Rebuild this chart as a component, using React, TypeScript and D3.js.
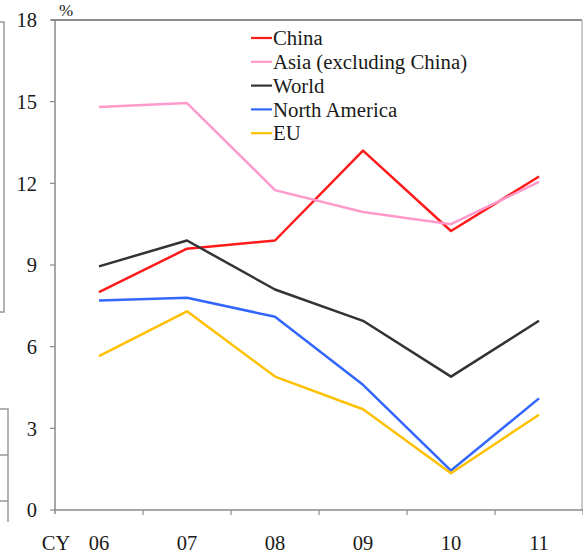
import React from "react";
import * as d3 from "d3";

const categories = ["06", "07", "08", "09", "10", "11"];
const yTicks = [0, 3, 6, 9, 12, 15, 18];
const seriesNames = ["China", "Asia (excluding China)", "World", "North America", "EU"];
const china = [8.0, 9.6, 9.9, 13.2, 10.25, 12.25];
const asia = [14.8, 14.95, 11.75, 10.95, 10.5, 12.05];
const world = [8.95, 9.9, 8.1, 6.95, 4.9, 6.95];
const northAmerica = [7.7, 7.8, 7.1, 4.6, 1.45, 4.1];
const eu = [5.65, 7.3, 4.9, 3.7, 1.35, 3.5];
const seriesColors = ["#ff1a1a", "#ff99cc", "#333333", "#3366ff", "#ffc000"];

const W = 583;
const H = 553;
const FONT = "'Liberation Serif', 'Times New Roman', serif";

export default function App() {
  const left = 55, right = 583, top = 20, bottom = 510;
  const x = d3.scaleBand<string>().domain(categories).range([left, right]).padding(0);
  const y = d3.scaleLinear().domain([0, 18]).range([bottom, top]);
  const cx = (c: string) => (x(c) as number) + x.bandwidth() / 2;
  const data = [china, asia, world, northAmerica, eu];
  const line = d3
    .line<number>()
    .x((_, i) => cx(categories[i]))
    .y((v) => y(v));
  const boundaries = categories.map((c) => (x(c) as number) + x.bandwidth());
  const axisColor = "#8a8a8a";

  return (
    <svg
      width={W}
      height={H}
      style={{ position: "absolute", left: 0, top: 0, background: "#fff" }}
      fontFamily={FONT}
    >
      {/* neighbouring frame fragments at left edge */}
      <g stroke="#9a9a9a" strokeWidth={1.5} fill="none">
        <path d="M0,22 H4 V312 H0" />
        <path d="M0,409 H8 V522" />
        <path d="M0,455 H8" />
        <path d="M0,501 H8" />
      </g>
      {/* frame */}
      <line x1={left - 4} x2={right - 1} y1={top} y2={top} stroke="#666" strokeWidth={1.5} />
      <line x1={right - 1} x2={right - 1} y1={top} y2={bottom} stroke="#aaa" strokeWidth={1.2} />
      {/* y axis */}
      <line x1={left} x2={left} y1={top} y2={bottom + 4} stroke={axisColor} strokeWidth={1.5} />
      {yTicks.map((t) => (
        <g key={t}>
          <line x1={left - 5} x2={left} y1={y(t)} y2={y(t)} stroke={axisColor} strokeWidth={1.2} />
          <text x={37} y={y(t)} dy="0.35em" textAnchor="end" fontSize={20.5} fill="#1a1a1a">
            {t}
          </text>
        </g>
      ))}
      <text x={59} y={16} fontSize={17} fill="#1a1a1a">%</text>
      {/* x axis */}
      <line x1={left} x2={right} y1={bottom} y2={bottom} stroke={axisColor} strokeWidth={1.5} />
      {boundaries.map((b, i) => (
        <line key={i} x1={b} x2={b} y1={bottom} y2={bottom + 5} stroke={axisColor} strokeWidth={1.2} />
      ))}
      {categories.map((c) => (
        <text key={c} x={cx(c)} y={550} textAnchor="middle" fontSize={20.5} fill="#1a1a1a">
          {c}
        </text>
      ))}
      <text x={56} y={550} textAnchor="middle" fontSize={20.5} fill="#1a1a1a">CY</text>
      {/* series */}
      {data.map((d, i) => (
        <path
          key={seriesNames[i]}
          d={line(d) as string}
          fill="none"
          stroke={seriesColors[i]}
          strokeWidth={2.5}
          strokeLinejoin="round"
        />
      ))}
      {/* legend */}
      {seriesNames.map((n, i) => (
        <g key={n} transform={`translate(0, ${38 + i * 23.8})`}>
          <line x1={251} x2={272} y1={0} y2={0} stroke={seriesColors[i]} strokeWidth={2.2} />
          <text x={273} y={0} dy="0.35em" fontSize={20.8} fill="#1a1a1a">
            {n}
          </text>
        </g>
      ))}
    </svg>
  );
}
